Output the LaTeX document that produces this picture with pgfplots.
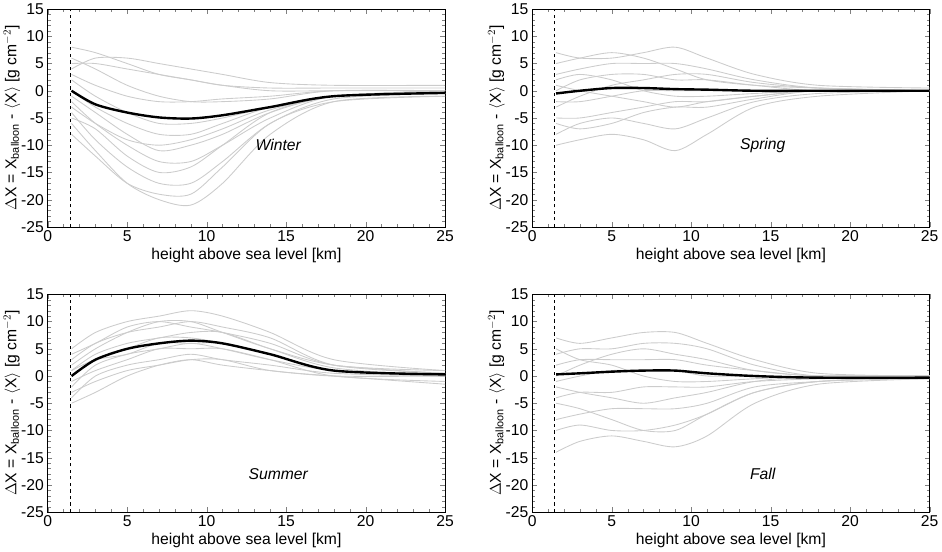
\documentclass[border=0pt]{standalone}
\usepackage{pgfplots}
\usepackage{pgfplotstable}
\pgfplotsset{compat=1.18}
\usepgfplotslibrary{groupplots}
\usepackage{fontspec}
\setmainfont{Liberation Sans}
\pgfplotstableread{
x c1 c2 c3 c4 c5 c6 c7 c8 c9 c10 c11 c12 c13 c14 m
1.5 8 5 3 0 -2 -4 -6 -8 2 -1 6 -3 4 -5 0
3 7 5 1 -3 -6 -9 -11 -12 -1 -4 4 -6 6 -7 -2.5
5 5 4 -1 -6 -10 -14 -17 -17 -4 -8 1 -9 6 -12 -4
7 3 3 -2 -8 -13 -17 -20 -19 -6 -11 -1 -10 5 -15 -4.9
9 2 2 -2 -8 -13 -17 -21 -19 -6 -10 -2 -9 4 -14 -5.1
11 1 1 -1.5 -6 -10 -13 -17 -14 -5 -8 -2 -7 3 -10 -4.5
14 0.5 0 -1 -3 -5 -6 -8 -6 -3 -4 -1.5 -3.5 1.5 -4 -3
18 0.5 0 0 -1 -1 -1.5 -2 -2 -1 -1 0 -1 1 -1 -1
25 0.5 0 0 0 -0.5 -0.5 -1 -1 0 0 0 0 1 -0.5 -0.4
}\tabW
\pgfplotstableread{
x c1 c2 c3 c4 c5 c6 c7 c8 c9 c10 c11 c12 m
1.5 7 3 0 -2 -5 -8 -10 5 1 -3 2 -6 -0.5
3 6 4 2 -2 -5 -6 -9 6 0 -1 3 -7 0
5 6 5 3 -1 -4 -5 -8 7 -1 1 2 -6 0.5
7 7 5 3 0 -3 -6 -9 6 -2 2 0 -4 0.5
9 8 5 2 0 -2 -7 -11 4 -3 3 -1 -3 0.3
11 6 4 2 0 -2 -5 -8 2 -2 3 -1 -3 0.2
14 3 2 1 0 -1 -2 -3 1 -1 1.5 -0.5 -1.5 0
18 1 0.5 0 0 0 -0.5 -1 0.5 0 0.5 0 0 0
25 0.5 0 0 0 0 0 0 0 0 0 0 0 0
}\tabSp
\pgfplotstableread{
x c1 c2 c3 c4 c5 c6 c7 c8 c9 c10 c11 c12 m
1.5 5 3 1 -2 -4 0 -3 2 -1 4 -5 1 0
3 8 6 4 2 0 3 -1 5 1 6 -3 3 3
5 10 8 6 4 2 5 1 8 3 9 0 4 5
7 11 9 7 5 3 7 2 10 5 10 2 6 6
9 12 10 8 6 4 7 3 10 5 9 3 6 6.5
11 11 9 8 5 3 6 3 8 5 8 2 6 6
14 8 7 5 3 2 4 1 5 3 6 1 4 4
18 3 2 1.5 1 0.5 1 0 2 0 2 0 1 1
25 1 0.5 0 0 0 0.5 -1.5 0.5 -1 1 0 0 0.3
}\tabSu
\pgfplotstableread{
x c1 c2 c3 c4 c5 c6 c7 c8 c9 c10 c11 c12 m
1.5 7 4 2 -1 -4 -8 -14 -10 5 -5 0 -2 0.3
3 6 5 3 0 -3 -7 -12 -9 3 -6 2 -3 0.5
5 7 5 3 1 -3 -6 -11 -10 2 -8 4 -4 0.8
7 8 6 3 1 -2 -6 -12 -10 0 -10 5 -5 1
9 8 6 3 1 -2 -6 -13 -9 -1 -10 4 -4 1
11 6 5 2 0 -2 -5 -11 -7 -1 -7 3 -3 0.5
14 3 2 1 0 -1 -2 -5 -3 -0.5 -3 1 -1 0
18 0.5 0 0 -0.5 -0.5 -1 -1.5 -1 0 -1 0 0 -0.3
25 0 0 0 0 0 0 -0.5 0 0 -0.5 0 0 -0.3
}\tabF
\newcommand{\panel}[3]{%
  \pgfplotsinvokeforeach{1,...,#2}{\addplot[gray!40, smooth, line width=0.8pt] table[x=x,y=c##1]{#1};}
  \addplot[black, smooth, line width=2.2pt] table[x=x,y=m]{#1};
  \addplot[black, dashed, thin] coordinates {(1.4,-25) (1.4,15)};
  \node[font=\itshape\Large] at (axis cs:14.5,#3) {\currentseason};
}
\begin{document}
\begin{tikzpicture}
\begin{groupplot}[
  group style={group size=2 by 2, horizontal sep=80pt, vertical sep=62pt},
  width=365pt, height=200pt, scale only axis,
  xmin=0, xmax=25, ymin=-25, ymax=15,
  xtick={0,5,...,25}, ytick={-25,-20,...,15},
  minor x tick num=4, minor y tick num=4,
  tick align=inside, tick pos=both,
  tick label style={font=\Large},
  label style={font=\Large},
  /pgf/number format/assume math mode=true,
  xlabel={height above sea level [km]},
  ylabel={$\Delta$X = X$_{\mathrm{balloon}}$ - $\langle$X$\rangle$ [g cm$^{-2}$]},
  xlabel style={yshift=1pt}, ylabel style={yshift=-6pt},
]
\nextgroupplot
\def\currentseason{Winter}\panel{\tabW}{14}{-10}
\nextgroupplot
\def\currentseason{Spring}\panel{\tabSp}{12}{-10}
\nextgroupplot
\def\currentseason{Summer}\panel{\tabSu}{12}{-18}
\nextgroupplot
\def\currentseason{Fall}\panel{\tabF}{12}{-18}
\end{groupplot}
\end{tikzpicture}
\end{document}
